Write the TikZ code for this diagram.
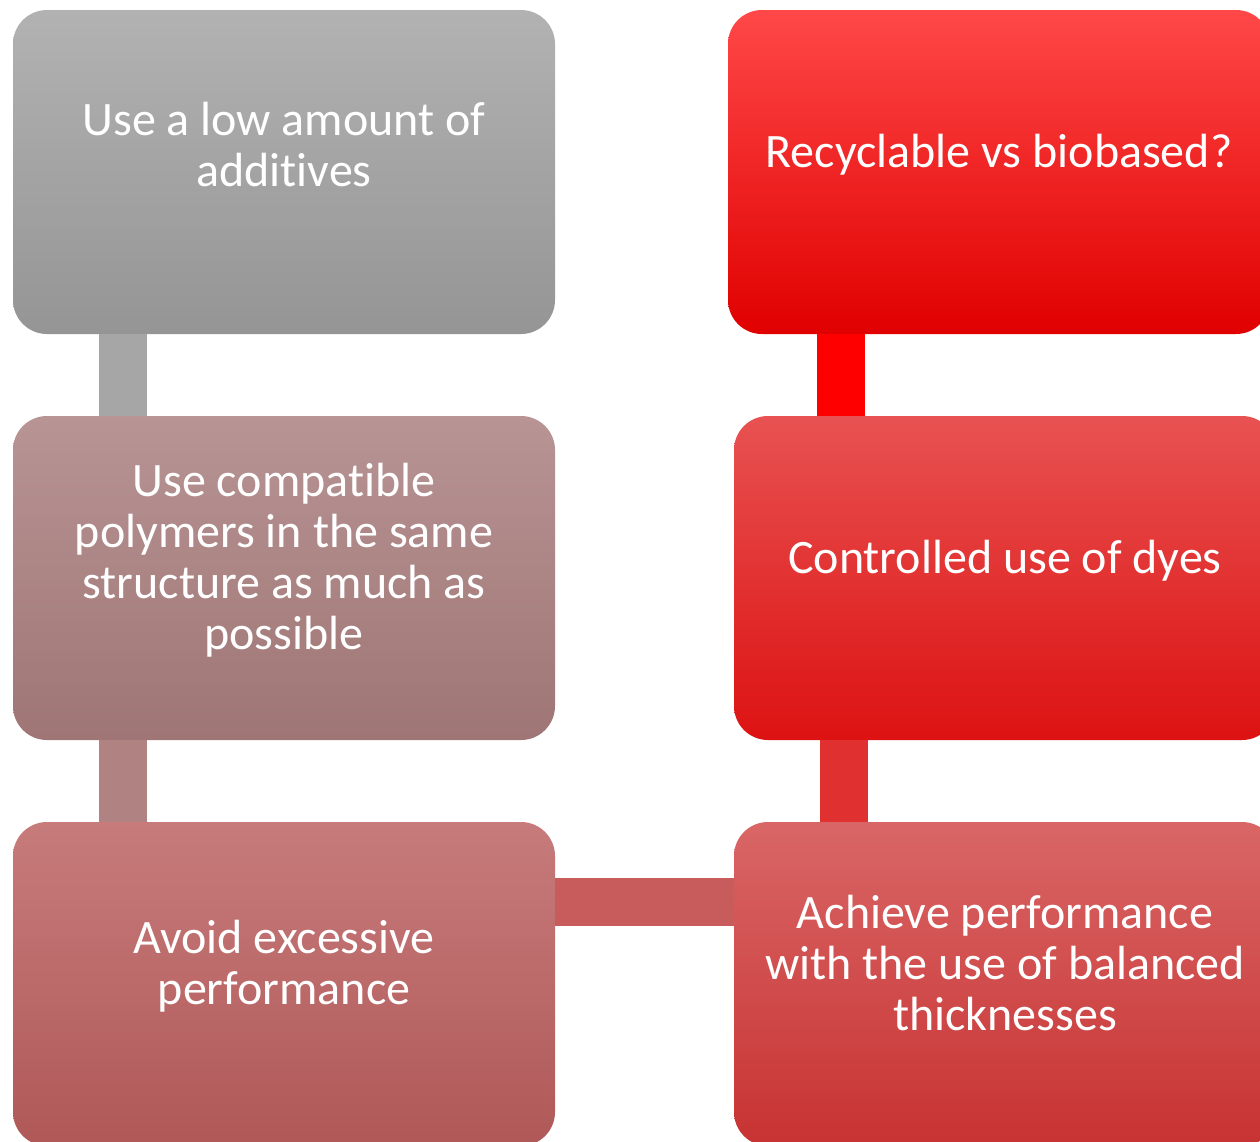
\documentclass[tikz,border=0pt]{standalone}
\usepackage{fontspec}
\setmainfont{Carlito}[Ligatures={NoCommon,NoContextual}]
\usetikzlibrary{positioning}

% box fills (top / bottom of each vertical gradient)
\definecolor{gA}{HTML}{B2B2B2}\definecolor{gB}{HTML}{959595}
\definecolor{mA}{HTML}{B89494}\definecolor{mB}{HTML}{9F7575}
\definecolor{lA}{HTML}{C77B7B}\definecolor{lB}{HTML}{B05858}
\definecolor{rA}{HTML}{FF4848}\definecolor{rM}{HTML}{FA0000}\definecolor{rB}{HTML}{E00000}
\definecolor{sA}{HTML}{E85252}\definecolor{sB}{HTML}{DD1212}
\definecolor{tA}{HTML}{D96666}\definecolor{tB}{HTML}{C83232}
% connector colours
\definecolor{cGray}{HTML}{A6A6A6}
\definecolor{cMauve}{HTML}{B08282}
\definecolor{cRose}{HTML}{C85C5C}
\definecolor{cRed}{HTML}{E03030}
\definecolor{cPure}{HTML}{FF0000}

% keep "t" and "i" as separate glyphs
\newcommand{\tI}{t\kern0pt i}

\tikzset{
  card/.style={rectangle, rounded corners=34pt, minimum width=542pt,
    minimum height=324pt, inner sep=0pt, outer sep=0pt, draw=none},
  cardtext/.style={text=white, align=center, inner sep=0pt,
    font=\fontsize{48}{51}\selectfont},
  link/.style={line width=48pt, line cap=butt},
}

\begin{document}
\begin{tikzpicture}[x=1pt, y=-1pt]
  \clip (0,0) rectangle (1260,1141);
  \fill[white] (0,0) rectangle (1260,1141);

  % cards
  \node[card, top color=gA, bottom color=gB] (b1) at (284,172) {};
  \node[card, top color=mA, bottom color=mB] (b2) at (284,578) {};
  \node[card, top color=lA, bottom color=lB] (b3) at (284,984) {};
  \node[card, top color=rA, middle color=rM, bottom color=rB] (b4) at (999,172) {};
  \node[card, top color=sA, bottom color=sB] (b5) at (1005,578) {};
  \node[card, top color=tA, bottom color=tB] (b6) at (1005,984) {};

  % card labels, set a little above each card's centre
  \node[cardtext] (t1) at ([yshift=27pt]b1.center) {Use a low amount of\\addi\tI ves};
  \node[cardtext] (t2) at ([yshift=18pt]b2.center) {Use compa\tI ble\\polymers in the same\\structure as much as\\possible};
  \node[cardtext] (t3) at ([yshift=18pt]b3.center) {Avoid excessive\\performance};
  \node[cardtext] (t4) at ([yshift=17pt]b4.center) {Recyclable vs biobased?};
  \node[cardtext] (t5) at ([yshift=17pt]b5.center) {Controlled use of dyes};
  \node[cardtext] (t6) at ([yshift=21pt]b6.center) {Achieve performance\\with the use of balanced\\thicknesses};

  % connector guides
  \coordinate (xl) at (123,0);
  \coordinate (xr1) at (841,0);
  \coordinate (xr2) at (843.5,0);
  \coordinate (yh) at (0,901.5);

  % connectors
  \draw[link, cGray]  (b1.south -| xl)  -- (b2.north -| xl);
  \draw[link, cMauve] (b2.south -| xl)  -- (b3.north -| xl);
  \draw[link, cRose]  (b3.east |- yh)   -- (b6.west |- yh);
  \draw[link, cRed]   (b6.north -| xr2) -- (b5.south -| xr2);
  \draw[link, cPure]  (b5.north -| xr1) -- (b4.south -| xr1);
\end{tikzpicture}
\end{document}
